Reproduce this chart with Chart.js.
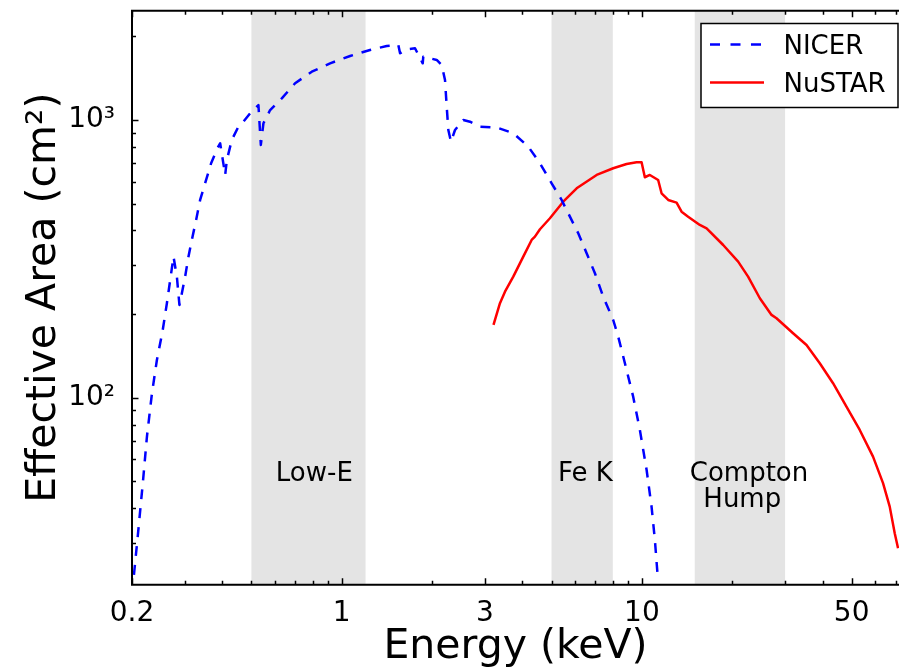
<!DOCTYPE html>
<html>
<head>
<meta charset="utf-8">
<script src="https://cdn.jsdelivr.net/npm/chart.js@4.4.1/dist/chart.umd.min.js"></script>
<style>
  html, body { margin: 0; padding: 0; background: #ffffff; }
</style>
</head>
<body>
<canvas id="area-chart" width="899" height="668"></canvas>
<script>
// NICER effective area (dashed blue)
const nicerEnergy = [0.203, 0.210, 0.2175, 0.2243, 0.2331, 0.2421, 0.2527, 0.2614, 0.2681, 0.2750,
  0.2822, 0.2878, 0.2932, 0.3007, 0.3084, 0.3165, 0.3271, 0.3373, 0.3505, 0.3670,
  0.3852, 0.3933, 0.4088, 0.4141, 0.4301, 0.4523, 0.4703, 0.4951, 0.5276, 0.5374,
  0.5482, 0.5771, 0.6313, 0.6991, 0.7946, 0.9142, 1.066, 1.242, 1.412, 1.543,
  1.564, 1.646, 1.754, 1.861, 1.869, 2.072, 2.153, 2.208, 2.237, 2.265,
  2.312, 2.384, 2.541, 2.675, 2.887, 3.282, 3.728, 4.182, 4.575, 5.004,
  5.403, 5.757, 6.137, 6.545, 6.975, 7.432, 8.025, 8.339, 8.779, 9.355,
  9.847, 10.37, 10.77, 11.05, 11.28];
const nicerArea = [23.0, 33.4, 49.8, 72.4, 103.7, 136.7, 172.9, 218.8, 265.4, 321.9,
  272.8, 215.7, 237.6, 272.8, 321.9, 369.8, 436.4, 515.1, 591.7, 698.5,
  791.1, 824.5, 633.9, 717.8, 847.2, 946, 986, 1057, 1132, 812.8,
  973, 1086, 1197, 1356, 1492, 1600, 1700, 1787, 1847, 1863,
  1739, 1797, 1812, 1600, 1690, 1645, 1578, 1393, 1117, 920.4,
  835.3, 920.4, 1000, 986, 946, 939.8, 896.2, 801.6, 698.5, 591.7,
  515.1, 448.5, 390.8, 331.1, 280.5, 231.1, 190.4, 165.9, 133.0, 100.8,
  76.5, 54.9, 40.5, 30.7, 23.0];

// NuSTAR effective area (solid red)
const nustarEnergy = [3.203, 3.366, 3.498, 3.728, 4.025, 4.292, 4.402, 4.575, 4.939, 5.469,
  6.063, 7.067, 8.025, 8.894, 9.603, 9.977, 10.23, 10.63, 11.33, 11.63,
  12.24, 13.05, 13.56, 14.26, 15.60, 16.43, 18.66, 20.93, 22.59, 24.72,
  27.04, 28.09, 31.90, 35.36, 39.15, 43.35, 48.04, 53.20, 58.91, 63.61,
  66.96, 69.58, 71.38];
const nustarArea = [182.7, 218.8, 240.8, 272.8, 321.9, 369.8, 380.1, 404.1, 442.6, 507.9,
  567.5, 633.9, 670, 694.5, 704.3, 704.3, 622, 633.9, 608, 544.5,
  515.1, 503.8, 467.6, 448.5, 418.8, 407.4, 354.6, 308.8, 272.8, 228.0,
  198.6, 193.2, 170.6, 154.8, 133.0, 112.7, 92.8, 76.5, 61.3, 49.2,
  40.5, 32.5, 28.7];

// shaded energy bands (keV) and their labels
const bandLo = [0.5, 5, 15];
const bandHi = [1.2, 8, 30];
const bandText = ['Low-E', 'Fe K', 'Compton', 'Hump'];
const bandTextE = [0.81, 6.48, 22.75, 21.6];
const bandTextA = [50, 50, 50, 40.5];

// axes
const xTickValues = [0.2, 1, 3, 10, 50];
const xTickLabels = ['0.2', '1', '3', '10', '50'];
const xMinorTicks = [0.3, 0.4, 0.5, 0.6, 0.7, 0.8, 0.9, 2, 4, 5, 6, 7, 8, 9, 20, 30, 40, 60, 70];
const yTickValues = [100, 1000];
const yTickLabels = ['10²', '10³'];
const yMinorTicks = [30, 40, 50, 60, 70, 80, 90, 200, 300, 400, 500, 600, 700, 800, 900, 2000];

const seriesNames = ['NICER', 'NuSTAR'];

const FONT = '"DejaVu Sans", sans-serif';

let toPoints = (xs, ys) => xs.map((v, i) => ({x: v, y: ys[i]}));

let frameAndExtras = {
  id: 'frameAndExtras',
  beforeDatasetsDraw(chart) {
    const {ctx, chartArea: a, scales: {x, y}} = chart;
    ctx.save();
    ctx.fillStyle = '#e4e4e4';
    for (let i = 0; i < bandLo.length; i++) {
      let x0 = x.getPixelForValue(bandLo[i]);
      let x1 = x.getPixelForValue(bandHi[i]);
      ctx.fillRect(x0, a.top, x1 - x0, a.bottom - a.top);
    }
    ctx.fillStyle = '#000000';
    ctx.font = '26px ' + FONT;
    ctx.textAlign = 'center';
    ctx.textBaseline = 'alphabetic';
    for (let i = 0; i < bandText.length; i++) {
      ctx.fillText(bandText[i], x.getPixelForValue(bandTextE[i]), y.getPixelForValue(bandTextA[i]));
    }
    ctx.restore();
  },
  afterDraw(chart) {
    const {ctx, chartArea: a, scales: {x, y}} = chart;
    ctx.save();
    ctx.strokeStyle = '#000000';

    // inward ticks, bottom + top
    ctx.lineWidth = 1.5;
    let xTick = (v, len) => {
      let px = Math.round(x.getPixelForValue(v)) + 0.5;
      ctx.beginPath();
      ctx.moveTo(px, a.bottom); ctx.lineTo(px, a.bottom - len);
      ctx.moveTo(px, a.top); ctx.lineTo(px, a.top + len);
      ctx.stroke();
    };
    xTickValues.forEach(v => xTick(v, 6.5));
    xMinorTicks.forEach(v => xTick(v, 4));
    let yTick = (v, len) => {
      let py = Math.round(y.getPixelForValue(v)) + 0.5;
      ctx.beginPath();
      ctx.moveTo(a.left, py); ctx.lineTo(a.left + len, py);
      ctx.stroke();
    };
    yTickValues.forEach(v => yTick(v, 6.5));
    yMinorTicks.forEach(v => yTick(v, 4));

    // spines (right one falls outside the picture)
    ctx.lineWidth = 2;
    ctx.beginPath();
    ctx.moveTo(a.right, a.top); ctx.lineTo(a.left, a.top);
    ctx.lineTo(a.left, a.bottom); ctx.lineTo(a.right, a.bottom);
    ctx.stroke();

    // legend
    let lx = 701, ly = 23.5, lw = 197, lh = 84;
    ctx.fillStyle = '#ffffff';
    ctx.fillRect(lx, ly, lw, lh);
    ctx.lineWidth = 1.5;
    ctx.strokeRect(lx, ly, lw, lh);

    ctx.lineWidth = 2.5;
    ctx.strokeStyle = '#0000ff';
    ctx.setLineDash([10, 10.5]);
    ctx.beginPath(); ctx.moveTo(710, 44.5); ctx.lineTo(761, 44.5); ctx.stroke();
    ctx.setLineDash([]);
    ctx.strokeStyle = '#ff0000';
    ctx.beginPath(); ctx.moveTo(710, 82.5); ctx.lineTo(764, 82.5); ctx.stroke();

    ctx.fillStyle = '#000000';
    ctx.font = '26px ' + FONT;
    ctx.textAlign = 'left';
    ctx.textBaseline = 'alphabetic';
    ctx.fillText(seriesNames[0], 783.5, 53.5);
    ctx.fillText(seriesNames[1], 783.5, 92);
    ctx.restore();
  }
};

let areaCfg = {
  type: 'line',
  data: {
    datasets: [{
      label: seriesNames[0],
      data: toPoints(nicerEnergy, nicerArea),
      borderColor: '#0000ff',
      backgroundColor: '#0000ff',
      borderWidth: 2.5,
      borderDash: [10, 9],
      borderJoinStyle: 'round',
      pointRadius: 0,
      tension: 0
    },
    {
      label: seriesNames[1],
      data: toPoints(nustarEnergy, nustarArea),
      borderColor: '#ff0000',
      backgroundColor: '#ff0000',
      borderWidth: 2.5,
      borderJoinStyle: 'round',
      pointRadius: 0,
      tension: 0
    }]
  },
  options: {
    responsive: false,
    animation: false,
    layout: {
      padding: {top: 10.7, right: 0, left: 0, bottom: 0}
    },
    plugins: {
      legend: {display: false},
      tooltip: {enabled: false}
    },
    scales: {
      x: {
        type: 'logarithmic',
        position: 'bottom',
        min: 0.2,
        max: 71.9,
        grid: {display: false},
        border: {display: false},
        afterBuildTicks: (s) => { s.ticks = xTickValues.map(v => ({value: v})); },
        afterFit: (s) => { s.height = 83.3; s.paddingLeft = 0; s.paddingRight = 0; },
        ticks: {
          autoSkip: false,
          maxRotation: 0,
          padding: 4,
          color: '#000000',
          font: {family: FONT, size: 28},
          callback: (v) => xTickLabels[xTickValues.indexOf(v)]
        },
        title: {
          display: true,
          text: 'Energy (keV)',
          color: '#000000',
          font: {family: FONT, size: 41, lineHeight: 1},
          padding: {top: 0, bottom: 0.5}
        }
      },
      y: {
        type: 'logarithmic',
        min: 21.2,
        max: 2475,
        grid: {display: false},
        border: {display: false},
        afterBuildTicks: (s) => { s.ticks = yTickValues.map(v => ({value: v})); },
        afterFit: (s) => { s.width = 132; s.paddingTop = 0; s.paddingBottom = 0; },
        ticks: {
          autoSkip: false,
          padding: 9,
          color: '#000000',
          font: {family: FONT, size: 28},
          callback: (v) => yTickLabels[yTickValues.indexOf(v)]
        },
        title: {
          display: true,
          text: 'Effective Area (cm²)',
          color: '#000000',
          font: {family: FONT, size: 41, lineHeight: 1},
          padding: {top: 23.8, bottom: 0}
        }
      }
    }
  },
  plugins: [frameAndExtras]
};

let areaChart = new Chart(document.getElementById('area-chart'), areaCfg);
</script>
</body>
</html>
